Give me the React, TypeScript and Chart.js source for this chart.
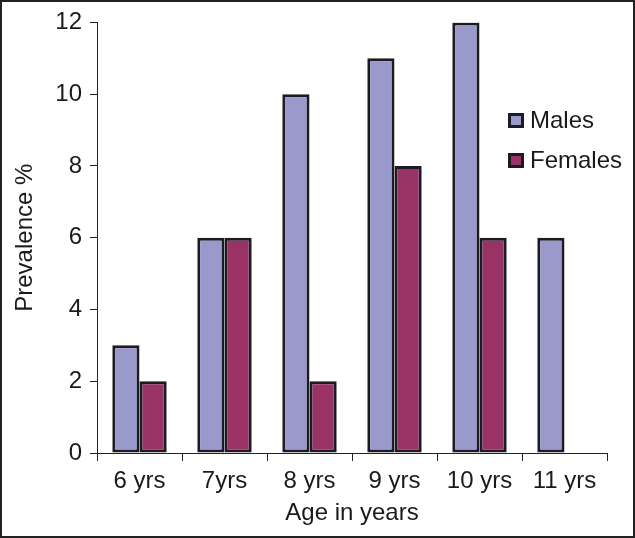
import React, { useEffect, useRef } from "react";
import { Chart, registerables } from "chart.js";

Chart.register(...registerables);

const categories = ["6 yrs", "7yrs", "8 yrs", "9 yrs", "10 yrs", "11 yrs"];
const males = [3, 6, 10, 11, 12, 6];
const females = [2, 6, 2, 8, 6, 0];
const seriesNames = ["Males", "Females"];
const yTicks = [0, 2, 4, 6, 8, 10, 12];

const MALE_COLOR = "#9999cc";
const FEMALE_COLOR = "#993366";
const EDGE = "#1c1a24";
const FONT = "'Liberation Sans', Arial, sans-serif";

export default function App() {
  const ref = useRef<HTMLCanvasElement | null>(null);

  useEffect(() => {
    if (!ref.current) return;
    const framePlugin = {
      id: "frame",
      beforeDraw(chart: any) {
        const ctx = chart.ctx;
        ctx.save();
        ctx.fillStyle = "#ffffff";
        ctx.fillRect(0, 0, chart.width, chart.height);
        ctx.strokeStyle = "#222222";
        ctx.lineWidth = 2;
        ctx.strokeRect(1, 1, chart.width - 2, chart.height - 2);
        ctx.restore();
      },
      afterDraw(chart: any) {
        const ctx = chart.ctx;
        ctx.save();
        const colors = [MALE_COLOR, FEMALE_COLOR];
        const baselines = [128, 168];
        seriesNames.forEach((name, i) => {
          const bx = 508;
          const by = baselines[i] - 15;
          ctx.fillStyle = EDGE;
          ctx.fillRect(bx, by, 16, 15);
          ctx.fillStyle = colors[i];
          ctx.fillRect(bx + 3, by + 3, 10, 9);
          ctx.fillStyle = "#1a1a1a";
          ctx.font = `24px ${FONT}`;
          ctx.textBaseline = "alphabetic";
          ctx.textAlign = "left";
          ctx.fillText(name, 530, baselines[i]);
        });
        ctx.restore();
      },
    };

    const chart = new Chart(ref.current, {
      type: "bar",
      data: {
        labels: categories,
        datasets: [
          {
            label: seriesNames[0],
            data: males,
            backgroundColor: MALE_COLOR,
            borderColor: EDGE,
            borderWidth: 3,
            borderSkipped: false,
          },
          {
            label: seriesNames[1],
            data: females,
            backgroundColor: FEMALE_COLOR,
            borderColor: EDGE,
            borderWidth: 3,
            borderSkipped: false,
          },
        ],
      },
      options: {
        responsive: false,
        animation: false,
        layout: { padding: { left: 0, top: 22, right: 28, bottom: 0 } },
        plugins: {
          legend: { display: false },
          tooltip: { enabled: false },
        },
        datasets: {
          bar: { barPercentage: 1, categoryPercentage: 0.64 },
        },
        scales: {
          x: {
            afterFit: (s: any) => {
              s.height = 85;
            },
            grid: {
              display: true,
              drawOnChartArea: false,
              drawTicks: true,
              tickLength: 8,
              color: "#222222",
              offset: true,
            },
            border: { display: true, color: "#222222", width: 1 },
            ticks: {
              color: "#1a1a1a",
              font: { family: FONT, size: 24 },
              padding: 6,
              maxRotation: 0,
            },
            title: {
              display: true,
              text: "Age in years",
              color: "#1a1a1a",
              font: { family: FONT, size: 24 },
              padding: { top: 0, bottom: 10 },
            },
          },
          y: {
            min: 0,
            max: 12,
            afterFit: (s: any) => {
              s.width = 97;
            },
            afterBuildTicks: (s: any) => {
              s.ticks = yTicks.map((v) => ({ value: v }));
            },
            grid: {
              display: true,
              drawOnChartArea: false,
              drawTicks: true,
              tickLength: 7,
              color: "#222222",
            },
            border: { display: true, color: "#222222", width: 1 },
            ticks: {
              color: "#1a1a1a",
              font: { family: FONT, size: 24 },
              padding: 8,
            },
            title: {
              display: true,
              text: "Prevalence %",
              color: "#1a1a1a",
              font: { family: FONT, size: 24 },
              padding: { top: 11, bottom: 0 },
            },
          },
        },
      },
      plugins: [framePlugin],
    });
    return () => chart.destroy();
  }, []);

  return (
    <div style={{ position: "absolute", left: 0, top: 0, width: 635, height: 538 }}>
      <canvas ref={ref} width={635} height={538} style={{ display: "block" }} />
    </div>
  );
}
